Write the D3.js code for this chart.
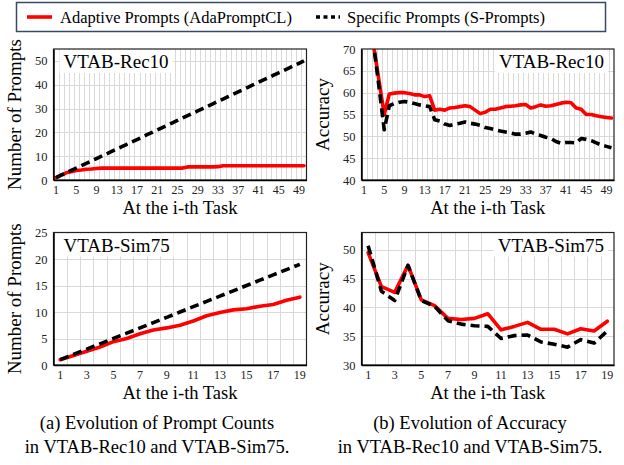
<!DOCTYPE html>
<html><head><meta charset="utf-8">
<script src="https://cdn.jsdelivr.net/npm/d3@7/dist/d3.min.js"></script>
<style>html,body{margin:0;padding:0;background:#fff;}svg{display:block;}</style>
</head><body>
<svg id="c" width="624" height="465"></svg>
<script>
// ---------- DATA ----------
const rec10Tasks = [1,2,3,4,5,6,7,8,9,10,11,12,13,14,15,16,17,18,19,20,21,22,23,24,25,26,27,28,29,30,31,32,33,34,35,36,37,38,39,40,41,42,43,44,45,46,47,48,49,50];
const sim75Tasks = [1,2,3,4,5,6,7,8,9,10,11,12,13,14,15,16,17,18,19];

const rec10TickLabels = [1,5,9,13,17,21,25,29,33,37,41,45,49];
const sim75TickLabels = [1,3,5,7,9,11,13,15,17,19];

const rec10PromptTicks = [0,10,20,30,40,50];
const sim75PromptTicks = [0,5,10,15,20,25];
const rec10AccTicks = [40,45,50,55,60,65,70];
const sim75AccTicks = [30,35,40,45,50];

// Number of prompts, VTAB-Rec10
const rec10PromptsAda = [1,2,3,3.5,4,4.2,4.5,4.6,4.8,5,5,5,5,5,5,5,5,5,5,5,5,5,5,5,5,5,5.5,5.5,5.5,5.5,5.5,5.5,5.6,6,6,6,6,6,6,6,6,6,6,6,6,6,6,6,6,6];
const rec10PromptsS = [1,2,3,4,5,6,7,8,9,10,11,12,13,14,15,16,17,18,19,20,21,22,23,24,25,26,27,28,29,30,31,32,33,34,35,36,37,38,39,40,41,42,43,44,45,46,47,48,49,50];

// Number of prompts, VTAB-Sim75
const sim75PromptsAda = [1,1.8,2.6,3.4,4.4,5.0,5.9,6.6,7.0,7.5,8.3,9.3,9.9,10.4,10.6,11.1,11.4,12.2,12.8];
const sim75PromptsS = [1,2,3,4,5,6,7,8,9,10,11,12,13,14,15,16,17,18,19];

// Accuracy, VTAB-Rec10
const rec10AccAda = [85,77,70,62.5,55,59.7,59.9,60,60,59.8,59.5,59.5,59.1,59.3,56,56.2,56,56.5,56.6,56.8,57,56.8,56,55.2,55.5,56.2,56.2,56.5,56.8,56.9,57,57.2,57.3,56.5,56.8,57.2,56.9,57,57.3,57.6,57.8,57.7,56.5,56.2,55,55,54.7,54.5,54.3,54.2];
const rec10AccS = [85,77,70,61,51.5,57,57.5,57.8,58,57.8,57.5,57.2,57,56.8,53.8,53.5,52.8,52.5,52.8,53,53.3,53,52.8,52.5,52,51.8,51.5,51.2,51,50.8,50.5,50.5,50.7,51,50.5,50.2,49.8,49.5,48.8,48.4,48.6,48.6,48.5,49.5,49.3,49,48.5,48,47.7,47.4];

// Accuracy, VTAB-Sim75
const sim75AccAda = [49.5,43.6,42.6,47.3,41.3,40.3,38.1,37.9,38.1,38.9,36.1,36.7,37.4,36.2,36.2,35.4,36.3,35.9,37.6];
const sim75AccS = [50.7,42.8,41.2,47.3,41.2,40.2,37.7,37.1,36.8,36.7,34.6,35.1,35.2,34.0,33.6,33.1,34.4,33.8,35.9];

const seriesNames = ["Adaptive Prompts (AdaPromptCL)", "Specific Prompts (S-Prompts)"];
const panelTitles = ["VTAB-Rec10", "VTAB-Sim75"];
const captions = [["(a) Evolution of Prompt Counts", "in VTAB-Rec10 and VTAB-Sim75."],
                  ["(b) Evolution of Accuracy", "in VTAB-Rec10 and VTAB-Sim75."]];

// ---------- DRAW ----------
const FONT = "'Liberation Serif','Times New Roman',serif";
const RED = "#ff0000", BLACK = "#000000";
const svg = d3.select("#c");

function panel(o) {
  const g = svg.append("g");
  const x = d3.scaleBand().domain(o.tasks).range([o.x0, o.x1]).paddingInner(0).paddingOuter(0);
  const y = d3.scaleLinear().domain(o.yDomain).range([o.y1, o.y0]);
  const bw = x.bandwidth();
  const cx = d => x(d) + bw / 2;
  const clipId = "clip" + o.id;
  g.append("clipPath").attr("id", clipId).append("rect")
    .attr("x", o.x0).attr("y", o.y0).attr("width", o.x1 - o.x0).attr("height", o.y1 - o.y0);

  // vertical gridlines at category boundaries
  g.append("g").selectAll("line").data(o.tasks.slice(1)).join("line")
    .attr("x1", d => Math.round(x(d)) + 0.5).attr("x2", d => Math.round(x(d)) + 0.5)
    .attr("y1", o.y0).attr("y2", o.y1)
    .attr("stroke", "#d9d9d9").attr("stroke-width", 1);
  // horizontal gridlines
  g.append("g").selectAll("line").data(o.yTicks.filter(t => t > o.yDomain[0] && t < o.yDomain[1])).join("line")
    .attr("x1", o.x0).attr("x2", o.x1)
    .attr("y1", d => Math.round(y(d)) + 0.5).attr("y2", d => Math.round(y(d)) + 0.5)
    .attr("stroke", "#d9d9d9").attr("stroke-width", 1);

  // title label with white box
  const tt = g.append("text").text(o.title)
    .attr("font-family", FONT).attr("font-size", 19)
    .attr("y", o.y0 + 19);
  if (o.titleAlign === "end") tt.attr("x", o.x1 - 10).attr("text-anchor", "end");
  else tt.attr("x", o.x0 + 10);
  const bb = tt.node().getBBox();
  g.insert("rect", "text").attr("x", bb.x - 4).attr("y", bb.y - 1).attr("width", bb.width + 8).attr("height", bb.height + 2).attr("fill", "#fff");

  // lines
  const line = d3.line().x((d, i) => cx(o.tasks[i])).y(d => y(d)).curve(d3.curveLinear);
  const lg = g.append("g").attr("clip-path", `url(#${clipId})`);
  lg.append("path").attr("d", line(o.ada)).attr("fill", "none").attr("stroke", RED)
    .attr("stroke-width", 3.6).attr("stroke-linejoin", "round").attr("stroke-linecap", "round");
  lg.append("path").attr("d", line(o.s)).attr("fill", "none").attr("stroke", BLACK)
    .attr("stroke-width", 3.6).attr("stroke-dasharray", "9,5").attr("stroke-linejoin", "round");

  // plot border
  g.append("rect").attr("x", o.x0).attr("y", o.y0).attr("width", o.x1 - o.x0).attr("height", o.y1 - o.y0)
    .attr("fill", "none").attr("stroke", "#222").attr("stroke-width", 1.2);

  // axes
  const xAxis = d3.axisBottom(x).tickValues(o.xTickLabels).tickSize(0).tickPadding(5);
  const ga = g.append("g").attr("transform", `translate(0,${o.y1})`).call(xAxis);
  ga.select(".domain").attr("stroke", "#000").attr("stroke-width", 1.5);
  ga.selectAll("text").attr("font-family", FONT).attr("font-size", 12).attr("fill", "#222");
  const yAxis = d3.axisLeft(y).tickValues(o.yTicks).tickSize(0).tickPadding(6);
  const gy = g.append("g").attr("transform", `translate(${o.x0},0)`).call(yAxis);
  gy.select(".domain").attr("stroke", "#000").attr("stroke-width", 1.5);
  gy.selectAll("text").attr("font-family", FONT).attr("font-size", 12.5).attr("fill", "#222");

  // axis titles
  g.append("text").text(o.yTitle).attr("font-family", FONT).attr("font-size", 19)
    .attr("text-anchor", "middle")
    .attr("transform", `translate(${o.yTitleX},${(o.y0 + o.y1) / 2}) rotate(-90)`);
  g.append("text").text("At the i-th Task").attr("font-family", FONT).attr("font-size", 18.5)
    .attr("text-anchor", "middle").attr("x", (o.x0 + o.x1) / 2).attr("y", o.y1 + 34);
}

panel({id: "tl", tasks: rec10Tasks, x0: 53.5, x1: 306.5, y0: 49, y1: 180, yDomain: [0, 55], yTicks: rec10PromptTicks,
  xTickLabels: rec10TickLabels, ada: rec10PromptsAda, s: rec10PromptsS, title: panelTitles[0], titleAlign: "start",
  yTitle: "Number of Prompts", yTitleX: 21});
panel({id: "tr", tasks: rec10Tasks, x0: 361.5, x1: 614, y0: 49, y1: 180, yDomain: [40, 70], yTicks: rec10AccTicks,
  xTickLabels: rec10TickLabels, ada: rec10AccAda, s: rec10AccS, title: panelTitles[0], titleAlign: "end",
  yTitle: "Accuracy", yTitleX: 329});
panel({id: "bl", tasks: sim75Tasks, x0: 53.5, x1: 306.5, y0: 232.5, y1: 365, yDomain: [0, 25], yTicks: sim75PromptTicks,
  xTickLabels: sim75TickLabels, ada: sim75PromptsAda, s: sim75PromptsS, title: panelTitles[1], titleAlign: "start",
  yTitle: "Number of Prompts", yTitleX: 21});
panel({id: "br", tasks: sim75Tasks, x0: 361.5, x1: 614, y0: 232.5, y1: 365, yDomain: [30, 53], yTicks: sim75AccTicks,
  xTickLabels: sim75TickLabels, ada: sim75AccAda, s: sim75AccS, title: panelTitles[1], titleAlign: "end",
  yTitle: "Accuracy", yTitleX: 329});

// legend
const lgd = svg.append("g");
lgd.append("rect").attr("x", 16.5).attr("y", 2.5).attr("width", 589).attr("height", 29)
  .attr("fill", "#fff").attr("stroke", "#3a4868").attr("stroke-width", 1.5);
lgd.append("line").attr("x1", 27).attr("x2", 52).attr("y1", 17).attr("y2", 17).attr("stroke", RED).attr("stroke-width", 3.6);
lgd.append("text").text(seriesNames[0]).attr("x", 60).attr("y", 23).attr("font-family", FONT).attr("font-size", 16.5);
lgd.append("line").attr("x1", 316).attr("x2", 340).attr("y1", 17).attr("y2", 17).attr("stroke", BLACK).attr("stroke-width", 3.6).attr("stroke-dasharray", "4,3.5");
lgd.append("text").text(seriesNames[1]).attr("x", 347).attr("y", 23).attr("font-family", FONT).attr("font-size", 16.5);

// captions
[[157, 0], [470, 1]].forEach(([cxp, i]) => {
  svg.append("text").text(captions[i][0]).attr("x", cxp).attr("y", 429).attr("text-anchor", "middle")
    .attr("font-family", FONT).attr("font-size", 18.5);
  svg.append("text").text(captions[i][1]).attr("x", cxp).attr("y", 453).attr("text-anchor", "middle")
    .attr("font-family", FONT).attr("font-size", 18.5);
});
</script>
</body></html>
